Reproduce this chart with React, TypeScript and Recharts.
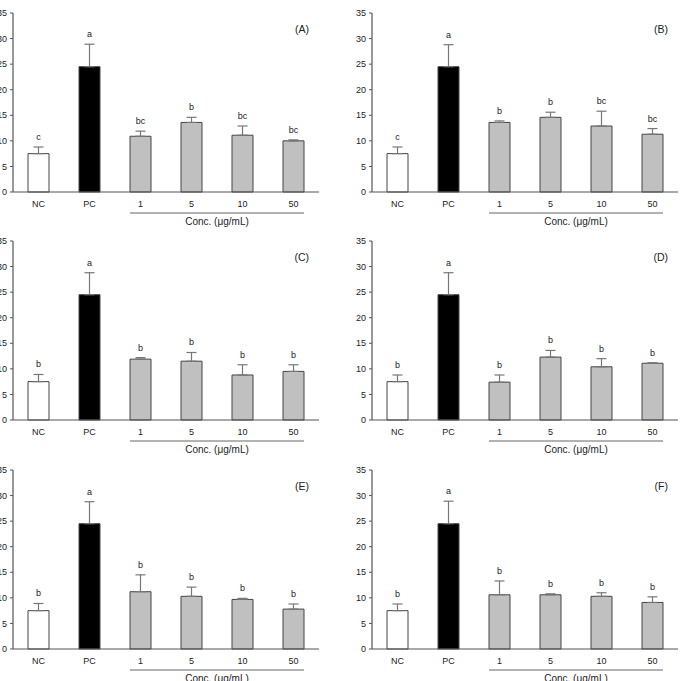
import React from 'react'
import {
  ComposedChart,
  Bar,
  Cell,
  ErrorBar,
  Line,
  LabelList,
  Label,
  XAxis,
  YAxis
} from 'recharts'

// groups shared by all six panels
const groups = ['NC', 'PC', '1', '5', '10', '50']
const yTicks = [0, 5, 10, 15, 20, 25, 30, 35]

// mean values per panel
const meansA = [7.5, 24.5, 10.9, 13.6, 11.1, 10.0]
const meansB = [7.5, 24.5, 13.6, 14.6, 12.9, 11.3]
const meansC = [7.5, 24.5, 11.9, 11.5, 8.8, 9.5]
const meansD = [7.5, 24.5, 7.4, 12.3, 10.4, 11.1]
const meansE = [7.5, 24.5, 11.2, 10.3, 9.7, 7.8]
const meansF = [7.5, 24.5, 10.6, 10.6, 10.3, 9.1]

// standard deviations (upper whisker only)
const sdA = [1.3, 4.4, 1.0, 1.0, 1.8, 0.2]
const sdB = [1.3, 4.3, 0.3, 1.0, 2.9, 1.1]
const sdC = [1.4, 4.3, 0.3, 1.7, 2.0, 1.3]
const sdD = [1.3, 4.3, 1.4, 1.3, 1.6, 0.1]
const sdE = [1.4, 4.3, 3.3, 1.8, 0.2, 1.0]
const sdF = [1.3, 4.4, 2.7, 0.2, 0.7, 1.1]

// significance letters
const lettersA = ['c', 'a', 'bc', 'b', 'bc', 'bc']
const lettersB = ['c', 'a', 'b', 'b', 'bc', 'bc']
const lettersC = ['b', 'a', 'b', 'b', 'b', 'b']
const lettersD = ['b', 'a', 'b', 'b', 'b', 'b']
const lettersE = ['b', 'a', 'b', 'b', 'b', 'b']
const lettersF = ['b', 'a', 'b', 'b', 'b', 'b']

const FONT = '"Liberation Sans", Arial, sans-serif'
const AXIS = '#555'
const BAR_SIZE = 21
const PLOT_W = 306
const PLOT_H = 179
const Y_W = 30
const TOP_M = 8
const X_H = 42

const fillFor = (i: number) => (i === 0 ? '#ffffff' : i === 1 ? '#000000' : '#c0c0c0')

// underline + caption spanning the concentration groups
const ConcLabel = (props: any) => {
  const vb = props.viewBox || {}
  const band = vb.width / groups.length
  const x1 = vb.x + band * 2.5 - BAR_SIZE / 2
  const x2 = vb.x + band * 5.5 + BAR_SIZE / 2
  return (
    <g>
      <line x1={x1} x2={x2} y1={vb.y + 21} y2={vb.y + 21} stroke="#666" strokeWidth={1} />
      <text
        x={(x1 + x2) / 2}
        y={vb.y + 33}
        textAnchor="middle"
        fontSize={10}
        fontFamily={FONT}
        fill="#222"
      >
        Conc. (μg/mL)
      </text>
    </g>
  )
}

interface PanelProps {
  title: string
  means: number[]
  sd: number[]
  letters: string[]
  left: number
  top: number
}

const Panel: React.FC<PanelProps> = ({ title, means, sd, letters, left, top }) => {
  const data = groups.map((g, i) => ({
    group: g,
    mean: means[i],
    err: [0, sd[i]],
    upper: means[i] + sd[i],
    letter: letters[i]
  }))

  return (
    <div style={{ position: 'absolute', left: left - Y_W, top: top - TOP_M }}>
      <ComposedChart
        width={Y_W + PLOT_W + 4}
        height={TOP_M + PLOT_H + X_H}
        data={data}
        margin={{ top: TOP_M, right: 4, left: 0, bottom: 0 }}
      >
        <XAxis
          dataKey="group"
          axisLine={{ stroke: AXIS, strokeWidth: 1.2 }}
          tickLine={false}
          tickSize={0}
          tickMargin={9}
          height={X_H}
          interval={0}
          tick={{ fontSize: 9, fontFamily: FONT, fill: '#222' }}
        >
          <Label content={<ConcLabel />} />
        </XAxis>
        <XAxis
          xAxisId="top"
          dataKey="group"
          orientation="top"
          height={0}
          tick={false}
          tickLine={false}
          axisLine={{ stroke: AXIS, strokeWidth: 1.2 }}
        />
        <YAxis
          domain={[0, 35]}
          ticks={yTicks}
          width={Y_W}
          tickSize={3}
          tickMargin={3}
          axisLine={{ stroke: AXIS, strokeWidth: 1.2 }}
          tickLine={{ stroke: AXIS }}
          tick={{ fontSize: 9, fontFamily: FONT, fill: '#222' }}
        />
        <YAxis
          yAxisId="right"
          orientation="right"
          domain={[0, 35]}
          width={0}
          tick={false}
          tickLine={false}
          axisLine={{ stroke: AXIS, strokeWidth: 1.2 }}
        />
        <Bar dataKey="mean" barSize={BAR_SIZE} stroke="#444" strokeWidth={1} isAnimationActive={false}>
          {data.map((_, i) => (
            <Cell key={i} fill={fillFor(i)} />
          ))}
          <ErrorBar dataKey="err" direction="y" width={5} stroke="#777" strokeWidth={1.2} />
        </Bar>
        <Line
          dataKey="upper"
          stroke="none"
          dot={false}
          activeDot={false}
          isAnimationActive={false}
        >
          <LabelList
            dataKey="letter"
            position="top"
            offset={7}
            style={{ fontSize: 9, fontFamily: FONT, fill: '#222' }}
          />
        </Line>
      </ComposedChart>
      <div
        style={{
          position: 'absolute',
          top: TOP_M + 10,
          left: Y_W + PLOT_W - 50,
          width: 40,
          textAlign: 'right',
          fontSize: 10.5,
          fontFamily: FONT,
          color: '#222'
        }}
      >
        {title}
      </div>
    </div>
  )
}

export default function App() {
  return (
    <div
      style={{
        position: 'absolute',
        left: 0,
        top: 0,
        width: 685,
        height: 681,
        overflow: 'hidden',
        background: '#fff'
      }}
    >
      <Panel title="(A)" means={meansA} sd={sdA} letters={lettersA} left={13} top={13} />
      <Panel title="(B)" means={meansB} sd={sdB} letters={lettersB} left={372} top={13} />
      <Panel title="(C)" means={meansC} sd={sdC} letters={lettersC} left={13} top={241} />
      <Panel title="(D)" means={meansD} sd={sdD} letters={lettersD} left={372} top={241} />
      <Panel title="(E)" means={meansE} sd={sdE} letters={lettersE} left={13} top={470} />
      <Panel title="(F)" means={meansF} sd={sdF} letters={lettersF} left={372} top={470} />
    </div>
  )
}
